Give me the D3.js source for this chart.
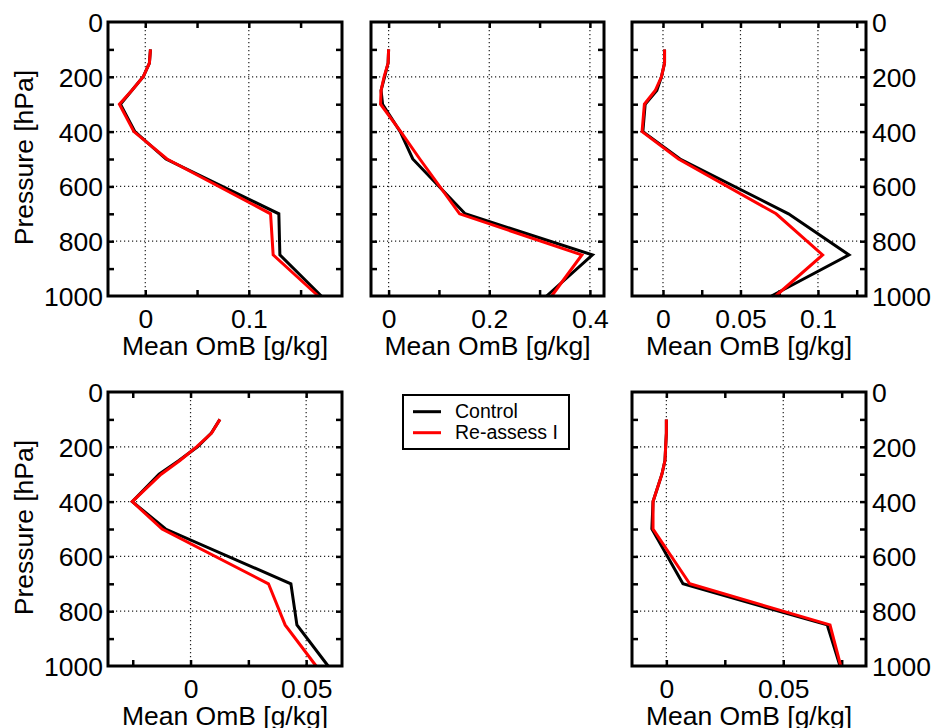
<!DOCTYPE html>
<html>
<head>
<meta charset="utf-8">
<script src="https://cdn.jsdelivr.net/npm/d3@7"></script>
<style>
  body { margin: 0; background: #fff; }
  text { font-family: "Liberation Sans", Arial, Helvetica, sans-serif; fill: #000; }
</style>
</head>
<body>
<svg id="chart" width="933" height="728"></svg>
<script>
// Pressure levels [hPa]
var levels = [100, 150, 200, 250, 300, 400, 500, 700, 850, 1000]
var pressureTicks = [0, 200, 400, 600, 800, 1000]
var pressureMinor = [100, 200, 300, 400, 500, 600, 700, 800, 900]

// Mean OmB [g/kg] per panel, Control and Re-assess I
var ctlA = [0.005, 0.004, -0.002, -0.013, -0.024, -0.010, 0.020, 0.129, 0.130, 0.170]
var reA = [0.005, 0.004, -0.002, -0.013, -0.025, -0.011, 0.021, 0.121, 0.1235, 0.167]
var ctlB = [0, -0.001, -0.008, -0.015, -0.012, 0.023, 0.048, 0.152, 0.405, 0.314]
var reB = [0, -0.001, -0.009, -0.015, -0.016, 0.024, 0.062, 0.141, 0.384, 0.324]
var ctlC = [0.001, 0.001, -0.001, -0.004, -0.0115, -0.013, 0.011, 0.081, 0.120, 0.070]
var reC = [0.001, 0.001, -0.001, -0.005, -0.012, -0.0135, 0.010, 0.073, 0.103, 0.0727]
var ctlD = [0.0127, 0.009, 0.003, -0.005, -0.0136, -0.0252, -0.0108, 0.0434, 0.046, 0.0595]
var reD = [0.0127, 0.0091, 0.0026, -0.0046, -0.0127, -0.0252, -0.0123, 0.0337, 0.0409, 0.0543]
var ctlE = [0, 0, -0.0003, -0.0006, -0.0019, -0.0057, -0.0062, 0.0071, 0.0688, 0.0743]
var reE = [0, 0, -0.0003, -0.0006, -0.0019, -0.0057, -0.0057, 0.010, 0.070, 0.0746]

// x axis domains and ticks
var domA = [-0.036, 0.19]
var ticksA = [0, 0.1]
var minorA = [0.05, 0.15]
var domB = [-0.035, 0.428]
var ticksB = [0, 0.2, 0.4]
var minorB = [0.1, 0.3]
var domC = [-0.02, 0.131]
var ticksC = [0, 0.05, 0.1]
var minorC = [0.025, 0.075, 0.125]
var domD = [-0.0357, 0.0655]
var ticksD = [0, 0.05]
var minorD = [-0.025, 0.025]
var domE = [-0.0147, 0.0854]
var ticksE = [0, 0.05]
var minorE = [0.025, 0.075]

var seriesNames = ['Control', 'Re-assess I']
var seriesColors = ['#000000', '#ff0000']

var svg = d3.select('#chart')

// Layout of the five panels
var panels = [
  { box: [108, 342, 22, 296], dom: domA, ticks: ticksA, minor: minorA, ctl: ctlA, re: reA, ySide: 'left' },
  { box: [371, 604, 22, 296], dom: domB, ticks: ticksB, minor: minorB, ctl: ctlB, re: reB, ySide: 'none' },
  { box: [632, 866, 22, 296], dom: domC, ticks: ticksC, minor: minorC, ctl: ctlC, re: reC, ySide: 'right' },
  { box: [108, 342, 392, 666], dom: domD, ticks: ticksD, minor: minorD, ctl: ctlD, re: reD, ySide: 'left' },
  { box: [632, 866, 392, 666], dom: domE, ticks: ticksE, minor: minorE, ctl: ctlE, re: reE, ySide: 'right' }
]

function fmt (v) {
  return v === 0 ? '0' : String(+v.toFixed(3))
}

function drawPanel (p) {
  var left = p.box[0]
  var right = p.box[1]
  var top = p.box[2]
  var bottom = p.box[3]
  var g = svg.append('g')

  var x = d3.scaleLinear().domain(p.dom).range([left, right])
  var y = d3.scaleLinear().domain([0, 1000]).range([top, bottom])

  // Dotted grid
  g.selectAll('.gx').data(p.ticks).enter().append('line')
    .attr('x1', function (d) { return x(d) }).attr('x2', function (d) { return x(d) })
    .attr('y1', top).attr('y2', bottom)
    .attr('stroke', '#222').attr('stroke-width', 1.2).attr('stroke-dasharray', '1.2,2.8')
  g.selectAll('.gy').data([200, 400, 600, 800]).enter().append('line')
    .attr('y1', function (d) { return y(d) }).attr('y2', function (d) { return y(d) })
    .attr('x1', left).attr('x2', right)
    .attr('stroke', '#222').attr('stroke-width', 1.2).attr('stroke-dasharray', '1.2,2.8')

  // Inward ticks on all sides
  var allX = p.ticks.concat(p.minor)
  function tickStyle (sel) {
    sel.select('.domain').remove()
    sel.selectAll('line').attr('stroke', '#000').attr('stroke-width', 2.5)
    sel.selectAll('text').remove()
  }
  g.append('g').attr('transform', 'translate(0,' + bottom + ')')
    .call(d3.axisTop(x).tickValues(allX).tickSize(6)).call(tickStyle)
  g.append('g').attr('transform', 'translate(0,' + top + ')')
    .call(d3.axisBottom(x).tickValues(allX).tickSize(6)).call(tickStyle)
  g.append('g').attr('transform', 'translate(' + left + ',0)')
    .call(d3.axisRight(y).tickValues(pressureMinor).tickSize(6)).call(tickStyle)
  g.append('g').attr('transform', 'translate(' + right + ',0)')
    .call(d3.axisLeft(y).tickValues(pressureMinor).tickSize(6)).call(tickStyle)

  // Profiles
  var line = d3.line()
    .x(function (d) { return x(d[0]) })
    .y(function (d) { return y(d[1]) })
  ;[p.ctl, p.re].forEach(function (vals, k) {
    g.append('path')
      .datum(vals.map(function (v, i) { return [v, levels[i]] }))
      .attr('d', line)
      .attr('fill', 'none')
      .attr('stroke', seriesColors[k])
      .attr('stroke-width', 3)
      .attr('stroke-linejoin', 'miter')
  })

  // Frame
  g.append('rect')
    .attr('x', left).attr('y', top)
    .attr('width', right - left).attr('height', bottom - top)
    .attr('fill', 'none').attr('stroke', '#000').attr('stroke-width', 3)

  // X tick labels
  var xl = g.append('g').attr('transform', 'translate(0,' + (bottom + 31.5) + ')')
    .call(d3.axisBottom(x).tickValues(p.ticks).tickSize(0).tickPadding(0).tickFormat(fmt))
  xl.select('.domain').remove()
  xl.selectAll('text').attr('dy', 0).attr('y', 0)
    .style('font-size', '26.5px').style('font-family', '"Liberation Sans", Arial, sans-serif').attr('fill', '#000')

  g.append('text')
    .attr('x', (left + right) / 2).attr('y', bottom + 59)
    .attr('text-anchor', 'middle').style('font-size', '26.5px')
    .text('Mean OmB [g/kg]')

  // Y tick labels
  if (p.ySide !== 'none') {
    var axis = p.ySide === 'left' ? d3.axisLeft(y) : d3.axisRight(y)
    var yl = g.append('g')
      .attr('transform', 'translate(' + (p.ySide === 'left' ? left - 5 : right + 6) + ',0)')
      .call(axis.tickValues(pressureTicks).tickSize(0).tickPadding(0).tickFormat(d3.format('d')))
    yl.select('.domain').remove()
    yl.selectAll('text').attr('dy', '0.36em')
      .style('font-size', '26.5px').style('font-family', '"Liberation Sans", Arial, sans-serif').attr('fill', '#000')
  }
  if (p.ySide === 'left') {
    g.append('text')
      .attr('transform', 'translate(33,' + ((top + bottom) / 2 - 1.5) + ') rotate(-90)')
      .attr('text-anchor', 'middle').style('font-size', '26.5px')
      .text('Pressure [hPa]')
  }
}

panels.forEach(drawPanel)

// Legend
var lg = svg.append('g')
lg.append('rect')
  .attr('x', 403).attr('y', 395).attr('width', 166).attr('height', 54)
  .attr('fill', '#fff').attr('stroke', '#000').attr('stroke-width', 2)
seriesNames.forEach(function (name, i) {
  var ly = 411.7 + i * 21
  lg.append('line')
    .attr('x1', 413).attr('x2', 441).attr('y1', ly).attr('y2', ly)
    .attr('stroke', seriesColors[i]).attr('stroke-width', 3)
  lg.append('text')
    .attr('x', 455).attr('y', ly + 6.7)
    .style('font-size', '19.5px')
    .text(name)
})
</script>
</body>
</html>
